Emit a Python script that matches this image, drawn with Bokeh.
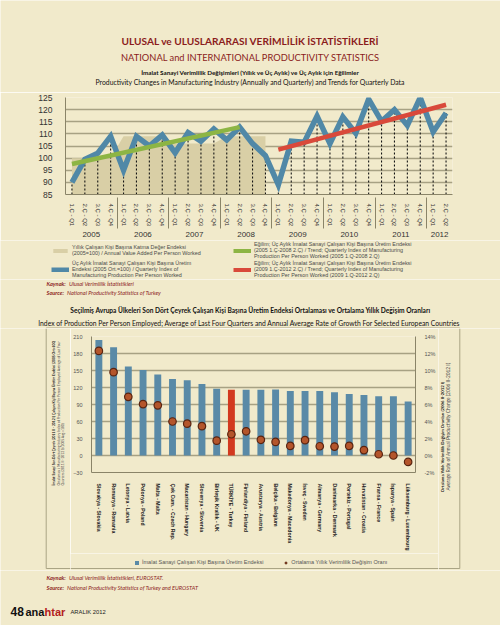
from bokeh.plotting import figure
from bokeh.models import (FactorRange, Range1d, LinearAxis, FixedTicker, Legend, LegendItem,
                          CustomJSTickFormatter)
from bokeh.layouts import column, row
from bokeh.core.properties import value
from bokeh.embed import file_html
from bokeh.resources import INLINE

# ---------------- data: chart 1 ----------------
years = ["2005", "2006", "2007", "2008", "2009", "2010", "2011", "2012"]
quarter_names = ["1.Ç - Q1", "2.Ç - Q2", "3.Ç - Q3", "4.Ç - Q4"]
quarters_per_year = [4, 4, 4, 4, 4, 4, 4, 2]
quarterly_index = [90.0, 99.5, 102.0, 109.0, 95.0, 109.0, 105.0, 109.5,
                   102.2, 110.5, 107.0, 112.0, 107.5, 112.8, 106.0, 101.0,
                   89.0, 107.0, 106.5, 117.3, 106.0, 117.0, 110.3, 124.3,
                   115.2, 120.0, 113.5, 125.0, 110.8, 118.6]
annual_years = ["2005", "2006", "2007", "2008"]
annual_index = [100.0, 109.0, 106.0, 109.0]
trend1_x = [("2005", "1.Ç - Q1"), ("2008", "2.Ç - Q2")]
trend1_y = [97.6, 112.8]
trend2_x = [("2009", "1.Ç - Q1"), ("2012", "2.Ç - Q2")]
trend2_y = [103.5, 122.0]
y1_ticks = [85, 90, 95, 100, 105, 110, 115, 120, 125]

# ---------------- data: chart 2 ----------------
countries = ["Slovakya - Slovakia", "Romanya - Romania", "Letonya - Latvia", "Polonya - Poland",
             "Malta - Malta", "Çek Cum. - Czech Rep.", "Macaristan - Hungary", "Slovenya - Slovenia",
             "Birleşik Krallık - UK", "TÜRKİYE - Turkey", "Finlandiya - Finland", "Avusturya - Austria",
             "Belçika - Belgium", "Makedonya - Macedonia", "İsveç - Sweden", "Almanya - Germany",
             "Danimarka - Denmark", "Portekiz - Portugal", "Hırvatistan - Croatia", "Fransa - France",
             "İspanya - Spain", "Lüksemburg - Luxembourg"]
production_index = [204, 191, 157, 151, 143, 135, 133, 126, 118, 116, 116, 116,
                    116.5, 113.7, 113.7, 113.7, 111.4, 108.6, 106.9, 104.7, 104.7, 95.1]
growth_rate = [12.3, 9.8, 6.9, 6.05, 5.9, 4.0, 3.75, 3.45, 1.75, 2.5, 2.85, 1.85,
               1.6, 1.13, 1.8, 1.09, 1.05, 1.13, 0.64, 0.15, 0.0, -0.75]
left_ticks = [-30, 0, 30, 60, 90, 120, 150, 180, 210]
pct_ticks = [-2, 0, 2, 4, 6, 8, 10, 12, 14]
highlight = "TÜRKİYE - Turkey"

# ---------------- styles ----------------
BG = "#f1eacb"
GRID = "#a7a183"
AXIS = "#8a8468"
BOX = "#aaa484"
DARKRED = "#8b1c1c"
COND = "Lato"
SANS = "Liberation Sans"
C_AREA = "#d9cfa6"
C_Q = "#5088a7"
C_T1 = "#8db544"
C_T2 = "#d9493a"
C_BAR = "#5a8aa7"
C_TR = "#d2391f"
C_DOT = "#b4552b"
C_DOTL = "#5a2410"
NAN = float("nan")


def text_panel(w, h):
    f = figure(width=w, height=h, x_range=Range1d(0, w), y_range=Range1d(h, 0),
               x_axis_type=None, y_axis_type=None, output_backend="svg", toolbar_location=None,
               min_border=0, background_fill_color=BG, border_fill_color=BG, outline_line_color=None)
    f.grid.visible = False
    return f


def put(f, x, y, s, size, font=COND, style="normal", color="#111", align="left", angle=0.0):
    f.text(x=[x], y=[y], text=[s], text_font=value(font), text_font_size=value(f"{size}px"),
           text_font_style=style, text_color=color, text_align=align, text_baseline="middle",
           angle=angle)


def edge(f, xs, ys):
    f.line(x=xs, y=ys, line_color=BOX, line_width=1)


def solo(obj):
    return column(obj)


# ---------------- header (page y 0-92) ----------------
head = text_panel(500, 92)
put(head, 250, 40, "ULUSAL ve ULUSLARARASI VERİMLİLİK İSTATİSTİKLERİ", 10.1, style="bold", color=DARKRED, align="center")
put(head, 250, 56.5, "NATIONAL and INTERNATIONAL PRODUCTIVITY STATISTICS", 9.3, color=DARKRED, align="center")
put(head, 250, 71.7, "İmalat Sanayi Verimlilik Değişimleri (Yıllık ve Üç Aylık) ve Üç Aylık için Eğilimler", 6.3,
    style="bold", align="center")
put(head, 250, 81.7, "Productivity Changes in Manufacturing Industry (Annually and Quarterly) and Trends for Quarterly Data",
    6.85, align="center")

# ---------------- chart 1 (page y 92-240) ----------------
factors = [(yr, quarter_names[i]) for yr, n in zip(years, quarters_per_year) for i in range(n)]
xr = FactorRange(*factors, factor_padding=0, group_padding=0, range_padding=0)
p1 = figure(width=500, height=148, x_range=xr, y_range=Range1d(85, 125), output_backend="svg",
            toolbar_location=None, min_border_left=65, min_border_right=48, min_border_top=5,
            min_border_bottom=43, background_fill_color=BG, border_fill_color=BG, outline_line_color=None)

area_x, area_y = [], []
for yr, v in zip(annual_years, annual_index):
    area_x += [(yr, quarter_names[0]), (yr, quarter_names[3])]
    area_y += [v, v]
p1.varea(x=area_x, y1=85, y2=area_y, fill_color=C_AREA)
p1.segment(x0=factors, y0=85, x1=factors, y1=quarterly_index, line_color="#151515",
           line_dash="2 2", line_width=1.1)
p1.line(x=factors, y=quarterly_index, line_color=C_Q, line_width=5.5, line_join="miter")
p1.line(x=trend1_x, y=trend1_y, line_color=C_T1, line_width=4.5)
p1.line(x=trend2_x, y=trend2_y, line_color=C_T2, line_width=4.5)

p1.ygrid.ticker = FixedTicker(ticks=y1_ticks)
p1.ygrid.grid_line_color = GRID
p1.ygrid.grid_line_width = 1.3
p1.xgrid.visible = False
p1.yaxis.ticker = FixedTicker(ticks=y1_ticks)
p1.yaxis.major_label_text_font_size = "8.5px"
p1.yaxis.major_label_text_font = SANS
p1.yaxis.major_label_text_color = "#333333"
p1.yaxis.major_tick_line_color = None
p1.yaxis.minor_tick_line_color = None
p1.yaxis.axis_line_color = AXIS
p1.yaxis.major_label_standoff = 7
p1.xaxis.major_label_orientation = "vertical"
p1.xaxis.major_label_text_font_size = "6px"
p1.xaxis.major_label_text_font = SANS
p1.xaxis.major_label_text_color = "#333333"
p1.xaxis.major_label_standoff = 3
p1.xaxis.group_text_font_size = "8px"
p1.xaxis.group_text_font = SANS
p1.xaxis.group_text_color = "#333333"
p1.xaxis.group_text_font_style = "normal"
p1.xaxis.separator_line_color = AXIS
p1.xaxis.separator_line_width = 1
p1.xaxis.major_tick_line_color = None
p1.xaxis.axis_line_color = AXIS

# ---------------- chart 1 legend (page y 240-279) ----------------
lg1 = text_panel(500, 39)
s_area = lg1.varea(x=[NAN], y1=[NAN], y2=[NAN], fill_color=C_AREA)
s_q = lg1.line(x=[NAN], y=[NAN], line_color=C_Q, line_width=5)
s_t1 = lg1.line(x=[NAN], y=[NAN], line_color=C_T1, line_width=4)
s_t2 = lg1.line(x=[NAN], y=[NAN], line_color=C_T2, line_width=4)
lab_annual = "Yıllık Çalışan Kişi Başına Katma Değer Endeksi\n(2005=100) / Annual Value Added Per Person Worked"
lab_quarter = ("Üç Aylık İmalat Sanayi Çalışan Kişi Başına Üretim\nEndeksi (2005 Ort.=100) / Quarterly Index of\n"
               "Manufacturing Production Per Person Worked")
lab_t1 = ("Eğilim; Üç Aylık İmalat Sanayi Çalışan Kişi Başına Üretim Endeksi\n(2005 1.Ç-2008 2.Ç) / Trend; "
          "Quarterly Index of Manufacturing\nProduction Per Person Worked (2005 1.Q-2008 2.Q)")
lab_t2 = ("Eğilim; Üç Aylık İmalat Sanayi Çalışan Kişi Başına Üretim Endeksi\n(2009 1.Ç-2012 2.Ç) / Trend; "
          "Quarterly Index of Manufacturing\nProduction Per Person Worked (2009 1.Q-2012 2.Q)")
leg1 = Legend(items=[LegendItem(label=lab_annual, renderers=[s_area]),
                     LegendItem(label=lab_quarter, renderers=[s_q]),
                     LegendItem(label=lab_t1, renderers=[s_t1]),
                     LegendItem(label=lab_t2, renderers=[s_t2])],
              orientation="vertical", ncols=2, location=(51, 1))
leg1.label_text_font = SANS
leg1.label_text_font_size = "5.4px"
leg1.label_text_line_height = 0.85
leg1.label_text_color = "#4a4a4a"
leg1.label_width = 160
leg1.glyph_width = 18
leg1.glyph_height = 5
leg1.label_height = 5
leg1.label_standoff = 3
leg1.spacing = 1
leg1.padding = 1
leg1.margin = 0
leg1.background_fill_alpha = 0
leg1.border_line_color = None
lg1.add_layout(leg1)

# ---------------- middle texts (page y 279-328) ----------------
mid = text_panel(500, 49)
put(mid, 46, 3.7, "Kaynak:", 5.6, style="bold italic", color=DARKRED)
put(mid, 68.5, 3.7, "Ulusal Verimlilik İstatistikleri", 5.6, style="italic", color=DARKRED)
put(mid, 46, 12.7, "Source:", 5.6, style="bold italic", color=DARKRED)
put(mid, 66.5, 12.7, "National Productivity Statistics of Turkey", 5.6, style="italic", color=DARKRED)
put(mid, 250, 30.3, "Seçilmiş Avrupa Ülkeleri Son Dört Çeyrek Çalışan Kişi Başına Üretim Endeksi Ortalaması ve "
    "Ortalama Yıllık Değişim Oranları", 6.6, style="bold", align="center")
put(mid, 250, 43.7, "Index of Production Per Person Employed; Average of Last Four Quarters and Annual Average "
    "Rate of Growth  For Selected European Countries", 6.75, align="center")
edge(mid, [45.7, 459.3], [48.5, 48.5])

# ---------------- chart 2 core (page x 70-438, y 328-553) ----------------
p2 = figure(width=368, height=225, x_range=FactorRange(*countries, factor_padding=0, range_padding=0),
            y_range=Range1d(-30, 210), output_backend="svg", toolbar_location=None,
            min_border_left=19, min_border_right=16, min_border_top=8, min_border_bottom=76,
            background_fill_color=BG, border_fill_color=BG, outline_line_color=None)
p2.extra_y_ranges = {"pct": Range1d(-2, 14)}
bar_colors = [C_TR if c == highlight else C_BAR for c in countries]
p2.vbar(x=countries, top=production_index, bottom=0, width=0.47, fill_color=bar_colors, line_color=None)
p2.scatter(x=countries, y=growth_rate, y_range_name="pct", size=7.5, fill_color=C_DOT,
           line_color=C_DOTL, line_width=1.2)
p2.ygrid.ticker = FixedTicker(ticks=left_ticks)
p2.ygrid.grid_line_color = GRID
p2.ygrid.grid_line_width = 1.4
p2.xgrid.visible = False
p2.yaxis.ticker = FixedTicker(ticks=left_ticks)
rax = LinearAxis(y_range_name="pct", ticker=FixedTicker(ticks=pct_ticks),
                 formatter=CustomJSTickFormatter(code="return tick + '%';"))
p2.add_layout(rax, "right")
for ax in (p2.yaxis[0], rax):
    ax.major_label_text_font_size = "5.5px"
    ax.major_label_text_font = SANS
    ax.major_label_text_color = "#555555"
    ax.major_tick_line_color = None
    ax.minor_tick_line_color = None
    ax.axis_line_color = AXIS
    ax.major_label_standoff = 3
p2.xaxis.major_label_orientation = "vertical"
p2.xaxis.major_label_text_font_size = "5.2px"
p2.xaxis.major_label_text_font = SANS
p2.xaxis.major_label_text_font_style = "bold"
p2.xaxis.major_label_text_color = "#222222"
p2.xaxis.major_tick_line_color = None
p2.xaxis.axis_line_color = AXIS
p2.xaxis.major_label_standoff = 5

# ---------------- chart 2 legend (page x 70-438, y 553-570) ----------------
lg2 = text_panel(368, 17)
s_bar = lg2.vbar(x=[NAN], top=[NAN], width=0.5, fill_color=C_BAR, line_color=None)
s_dot = lg2.scatter(x=[NAN], y=[NAN], size=5, fill_color=C_DOT, line_color=C_DOTL)
leg2 = Legend(items=[LegendItem(label="İmalat Sanayi Çalışan Kişi Başına Üretim Endeksi", renderers=[s_bar]),
                     LegendItem(label="Ortalama Yıllık Verimlilik Değişim Oranı", renderers=[s_dot])],
              orientation="horizontal", location=(64, 5))
leg2.label_text_font = SANS
leg2.label_text_font_size = "5.5px"
leg2.label_text_color = "#555555"
leg2.glyph_width = 5
leg2.glyph_height = 5
leg2.label_height = 6
leg2.label_standoff = 3
leg2.spacing = 20
leg2.padding = 1
leg2.margin = 0
leg2.background_fill_alpha = 0
leg2.border_line_color = None
lg2.add_layout(leg2)
edge(lg2, [0, 368], [15, 15])

# ---------------- chart 2 side titles ----------------
lp = text_panel(70, 242)
put(lp, 53.5, 157, "İmalat Sanayi Son Dört Çeyrek (2011 II - 2012 I) Çalışan Kişi Başına Üretim Endeksi (2005 Ort=100)",
    3.3, style="bold", align="left", angle=1.5708)
put(lp, 58.3, 157, "Ortalaması / Manufacturing Industry Index of Production Per Person Employed Average of Last Four",
    3.3, color="#444444", align="left", angle=1.5708)
put(lp, 62.2, 157, "Quarters (2011 II -2012 I) (2005 Avg.=100)", 3.3, color="#444444", align="left", angle=1.5708)
edge(lp, [45.7, 45.7, 70], [0, 240, 240])

rp = text_panel(62, 242)
put(rp, 3.9, 163.7, "Ortalama Yıllık Verimlilik Değişim Oranları (2006 II-2012 I)", 4.3, style="bold",
    align="left", angle=1.5708)
put(rp, 9.5, 162, "Average Rate of Annual Productivity Change (2006 II-2012 I)", 4.8, color="#444444",
    align="left", angle=1.5708)
edge(rp, [0, 21.3, 21.3], [240, 240, 0])

# ---------------- footer (page y 570-625) ----------------
foot = text_panel(500, 55)
put(foot, 46, 7, "Kaynak:", 5.6, style="bold italic", color=DARKRED)
put(foot, 68.5, 7, "Ulusal Verimlilik İstatistikleri, EUROSTAT.", 5.6, style="italic", color=DARKRED)
put(foot, 46, 17, "Source:", 5.6, style="bold italic", color=DARKRED)
put(foot, 66.5, 17, "National Productivity Statistics of Turkey and EUROSTAT", 5.6, style="italic", color=DARKRED)
put(foot, 10, 41, "48", 12, font=SANS, style="bold", color="#111111")
put(foot, 25, 41, "ana", 11, font=SANS, style="bold", color="#111111")
put(foot, 44, 41, "htar", 11, font=SANS, style="bold", color="#b3201c")
put(foot, 70, 41.5, "ARALIK 2012", 5.8, font=SANS, color="#222222")

chart2_row = row(solo(lp), column(solo(p2), solo(lg2), spacing=0), solo(rp), spacing=0)
layout = column(solo(head), solo(p1), solo(lg1), solo(mid), chart2_row, solo(foot), spacing=0)
open("out.html", "w").write(file_html(layout, INLINE))
